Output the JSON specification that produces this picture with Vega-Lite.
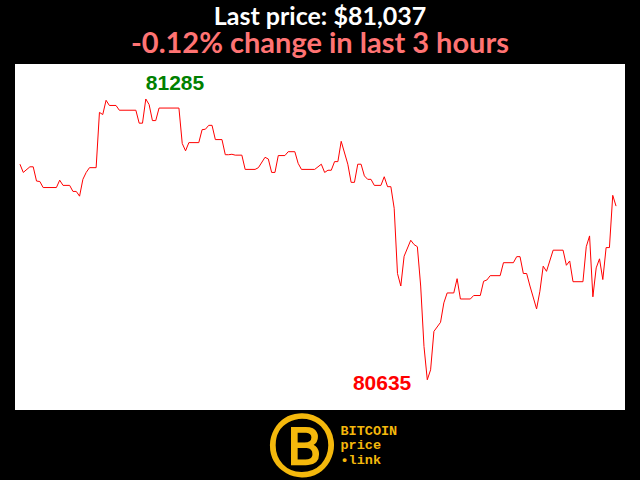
{
  "$schema": "https://vega.github.io/schema/vega-lite/v6.json",
  "width": 610,
  "height": 346,
  "autosize": {"type": "none"},
  "padding": {"top": 64, "left": 15, "right": 15, "bottom": 70},
  "background": "#000000",
  "config": {"view": {"fill": "#ffffff", "stroke": null}},
  "title": {
    "text": "Last price: $81,037",
    "subtitle": "-0.12% change in last 3 hours",
    "anchor": "middle",
    "frame": "group",
    "font": "Lato",
    "fontWeight": "bold",
    "fontSize": 25,
    "color": "#ffffff",
    "subtitleFont": "Lato",
    "subtitleFontWeight": "bold",
    "subtitleFontSize": 29,
    "subtitleColor": "#ff7373",
    "subtitlePadding": 0,
    "offset": 5
  },
  "data": {"values": [
    {"t": 0, "price": 81134}, {"t": 1, "price": 81115}, {"t": 3, "price": 81128}, {"t": 4, "price": 81128},
    {"t": 5, "price": 81095}, {"t": 6, "price": 81094}, {"t": 7, "price": 81080}, {"t": 11, "price": 81080},
    {"t": 12, "price": 81097}, {"t": 13, "price": 81085}, {"t": 15, "price": 81085}, {"t": 16, "price": 81071},
    {"t": 17, "price": 81071}, {"t": 18, "price": 81060}, {"t": 19, "price": 81099}, {"t": 20, "price": 81115},
    {"t": 21, "price": 81126}, {"t": 23, "price": 81126}, {"t": 24, "price": 81254}, {"t": 25, "price": 81249},
    {"t": 26, "price": 81282}, {"t": 27, "price": 81270}, {"t": 29, "price": 81270}, {"t": 30, "price": 81259},
    {"t": 35, "price": 81259}, {"t": 36, "price": 81229}, {"t": 37, "price": 81229}, {"t": 38, "price": 81285},
    {"t": 39, "price": 81272}, {"t": 40, "price": 81235}, {"t": 41, "price": 81235}, {"t": 42, "price": 81264},
    {"t": 48, "price": 81264}, {"t": 49, "price": 81182}, {"t": 50, "price": 81165}, {"t": 51, "price": 81184},
    {"t": 54, "price": 81184}, {"t": 55, "price": 81214}, {"t": 56, "price": 81215}, {"t": 57, "price": 81224},
    {"t": 58, "price": 81224}, {"t": 59, "price": 81191}, {"t": 61, "price": 81191}, {"t": 62, "price": 81156},
    {"t": 63, "price": 81156}, {"t": 64, "price": 81157}, {"t": 65, "price": 81155}, {"t": 67, "price": 81155},
    {"t": 68, "price": 81122}, {"t": 71, "price": 81122}, {"t": 72, "price": 81126}, {"t": 74, "price": 81150},
    {"t": 75, "price": 81146}, {"t": 76, "price": 81115}, {"t": 77, "price": 81115}, {"t": 78, "price": 81154},
    {"t": 80, "price": 81154}, {"t": 81, "price": 81163}, {"t": 83, "price": 81163}, {"t": 84, "price": 81136},
    {"t": 85, "price": 81122}, {"t": 89, "price": 81122}, {"t": 91, "price": 81134}, {"t": 92, "price": 81115},
    {"t": 93, "price": 81120}, {"t": 94, "price": 81120}, {"t": 95, "price": 81140}, {"t": 96, "price": 81140},
    {"t": 97, "price": 81187}, {"t": 99, "price": 81134}, {"t": 100, "price": 81092}, {"t": 101, "price": 81092},
    {"t": 102, "price": 81134}, {"t": 103, "price": 81134}, {"t": 104, "price": 81107}, {"t": 105, "price": 81099},
    {"t": 106, "price": 81099}, {"t": 107, "price": 81085}, {"t": 109, "price": 81085}, {"t": 110, "price": 81105},
    {"t": 111, "price": 81082}, {"t": 112, "price": 81082}, {"t": 113, "price": 81032}, {"t": 114, "price": 80881},
    {"t": 115, "price": 80852}, {"t": 116, "price": 80921}, {"t": 118, "price": 80958}, {"t": 119, "price": 80948},
    {"t": 120, "price": 80943}, {"t": 121, "price": 80852}, {"t": 122, "price": 80712}, {"t": 123, "price": 80635},
    {"t": 124, "price": 80658}, {"t": 125, "price": 80747}, {"t": 127, "price": 80768}, {"t": 128, "price": 80813},
    {"t": 129, "price": 80836}, {"t": 131, "price": 80836}, {"t": 132, "price": 80869}, {"t": 133, "price": 80822},
    {"t": 136, "price": 80822}, {"t": 137, "price": 80830}, {"t": 139, "price": 80830}, {"t": 140, "price": 80863},
    {"t": 141, "price": 80866}, {"t": 142, "price": 80876}, {"t": 145, "price": 80876}, {"t": 146, "price": 80906},
    {"t": 149, "price": 80906}, {"t": 150, "price": 80920}, {"t": 151, "price": 80920}, {"t": 152, "price": 80881},
    {"t": 153, "price": 80881}, {"t": 154, "price": 80852}, {"t": 156, "price": 80799}, {"t": 157, "price": 80840},
    {"t": 158, "price": 80898}, {"t": 159, "price": 80886}, {"t": 161, "price": 80935}, {"t": 164, "price": 80935},
    {"t": 165, "price": 80900}, {"t": 166, "price": 80910}, {"t": 167, "price": 80862}, {"t": 170, "price": 80862},
    {"t": 171, "price": 80943}, {"t": 172, "price": 80968}, {"t": 173, "price": 80827}, {"t": 174, "price": 80894},
    {"t": 175, "price": 80915}, {"t": 176, "price": 80867}, {"t": 177, "price": 80941}, {"t": 178, "price": 80941},
    {"t": 179, "price": 81062}, {"t": 180, "price": 81037}
  ]},
  "encoding": {
    "x": {
      "field": "t",
      "type": "quantitative",
      "scale": {"domain": [-1.5, 182.7], "nice": false, "zero": false},
      "axis": {
        "orient": "bottom",
        "domain": false,
        "ticks": false,
        "grid": false,
        "values": [85.0],
        "labelExpr": "'Ⓑ'",
        "labelFont": "DejaVu Sans",
        "labelFontWeight": "bold",
        "labelFontSize": 66,
        "labelColor": "#f4b80c",
        "labelPadding": 6,
        "labelBaseline": "top",
        "title": ["BITCOIN", "price", "•link"],
        "titleFont": "Liberation Mono",
        "titleFontWeight": "bold",
        "titleFontSize": 13.5,
        "titleColor": "#f4b80c",
        "titleAlign": "left",
        "titleBaseline": "top",
        "titleX": 325,
        "titleY": 13,
        "titleLineHeight": 14.5
      }
    },
    "y": {
      "field": "price",
      "type": "quantitative",
      "scale": {"domain": [80565, 81366], "nice": false, "zero": false},
      "axis": null
    }
  },
  "layer": [
    {"mark": {"type": "line", "color": "#ff0000", "strokeWidth": 1}},
    {
      "transform": [
        {"joinaggregate": [{"op": "max", "field": "price", "as": "maxp"}]},
        {"filter": "datum.price == datum.maxp"}
      ],
      "mark": {"type": "text", "align": "left", "baseline": "alphabetic", "dy": -9, "font": "Liberation Sans", "fontWeight": "bold", "fontSize": 21, "color": "#008000"},
      "encoding": {"text": {"field": "price", "type": "quantitative", "format": "d"}}
    },
    {
      "transform": [
        {"joinaggregate": [{"op": "min", "field": "price", "as": "minp"}]},
        {"filter": "datum.price == datum.minp"}
      ],
      "mark": {"type": "text", "align": "right", "baseline": "alphabetic", "dx": -16, "dy": 10, "font": "Liberation Sans", "fontWeight": "bold", "fontSize": 21, "color": "#ff0000"},
      "encoding": {"text": {"field": "price", "type": "quantitative", "format": "d"}}
    }
  ]
}
